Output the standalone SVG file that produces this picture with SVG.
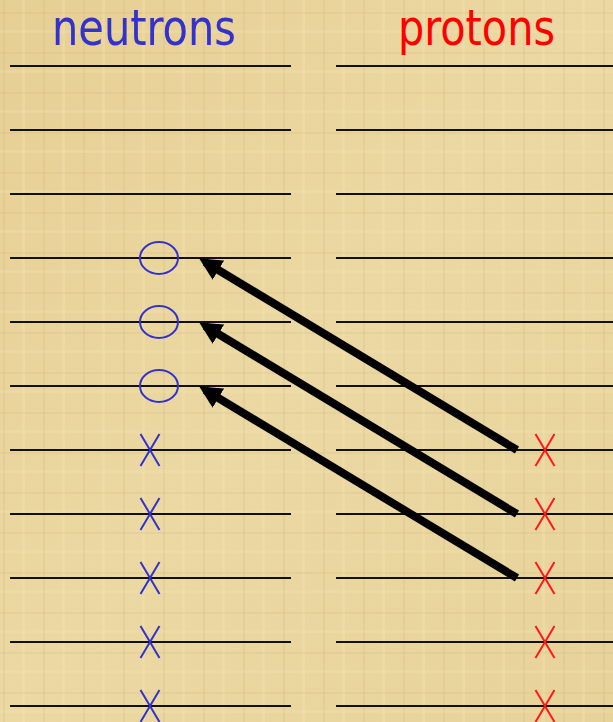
<svg xmlns="http://www.w3.org/2000/svg" width="613" height="722" viewBox="0 0 613 722">
<defs>
<style>
.lvl{stroke:#111;stroke-width:2;fill:none}
.n{stroke:#3333cc;stroke-width:2;fill:none}
.p{stroke:#ff1a1a;stroke-width:2;fill:none}
.arr{stroke:#000;stroke-width:8;fill:none;marker-end:url(#ah)}
.t{font-family:"DejaVu Sans Condensed","DejaVu Sans","Liberation Sans",sans-serif;font-size:50px}
</style>
<marker id="ah" viewBox="0 0 10 10" refX="7" refY="5" markerWidth="2.8" markerHeight="2.8" orient="auto" markerUnits="strokeWidth">
<path d="M0,0 L10,5 L0,10 Z" fill="#000"/>
</marker>
<linearGradient id="bg" x1="0" y1="0" x2="1" y2="1">
<stop offset="0" stop-color="#e6cf93"/>
<stop offset="0.5" stop-color="#ecd8a3"/>
<stop offset="1" stop-color="#e7d29a"/>
</linearGradient>
<pattern id="tex" width="40" height="40" patternUnits="userSpaceOnUse">
<rect x="3" y="0" width="2" height="40" fill="#d2b87c" opacity="0.25"/>
<rect x="22" y="0" width="3" height="40" fill="#f4e3b2" opacity="0.35"/>
<rect x="0" y="12" width="40" height="2" fill="#d0b67c" opacity="0.2"/>
<rect x="0" y="30" width="40" height="3" fill="#f3e1b0" opacity="0.3"/>
</pattern>
</defs>
<rect width="613" height="722" fill="url(#bg)"/>
<rect width="613" height="722" fill="url(#tex)"/>
<text class="t" x="144" y="45" text-anchor="middle" fill="#3333cc" textLength="184" lengthAdjust="spacingAndGlyphs">neutrons</text>
<text class="t" x="476.5" y="45" text-anchor="middle" fill="#ff0000" textLength="157" lengthAdjust="spacingAndGlyphs">protons</text>
<g id="levels">
<path class="lvl" d="M10,66H291M336,66H613M10,130H291M336,130H613M10,194H291M336,194H613M10,258H291M336,258H613M10,322H291M336,322H613M10,386H291M336,386H613M10,450H291M336,450H613M10,514H291M336,514H613M10,578H291M336,578H613M10,642H291M336,642H613M10,706H291M336,706H613"/>
</g>
<g id="neutron-holes">
<ellipse class="n" cx="159" cy="258" rx="19" ry="16"/>
<ellipse class="n" cx="159" cy="322" rx="19" ry="16"/>
<ellipse class="n" cx="159" cy="386" rx="19" ry="16"/>
</g>
<g id="neutrons">
<path class="n" d="M140.5,434L159.5,466M159.5,434L140.5,466M140.5,498L159.5,530M159.5,498L140.5,530M140.5,562L159.5,594M159.5,562L140.5,594M140.5,626L159.5,658M159.5,626L140.5,658M140.5,690L159.5,722M159.5,690L140.5,722"/>
</g>
<g id="protons">
<path class="p" d="M535.5,434L554.5,466M554.5,434L535.5,466M535.5,498L554.5,530M554.5,498L535.5,530M535.5,562L554.5,594M554.5,562L535.5,594M535.5,626L554.5,658M554.5,626L535.5,658M535.5,690L554.5,722M554.5,690L535.5,722"/>
</g>
<g id="connectors">
<line class="arr" x1="517" y1="450" x2="205" y2="262"/>
<line class="arr" x1="517" y1="514" x2="205" y2="326"/>
<line class="arr" x1="517" y1="578" x2="205" y2="390"/>
</g>
</svg>
